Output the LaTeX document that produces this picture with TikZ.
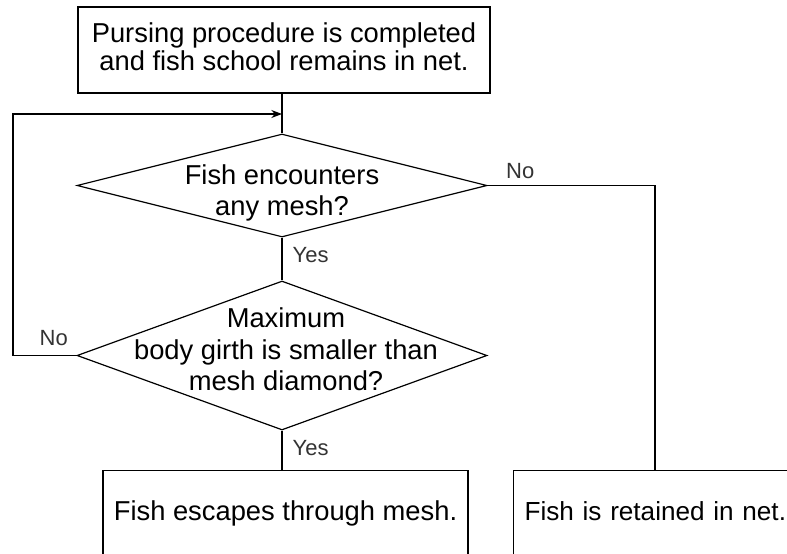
\documentclass[tikz,border=0pt]{standalone}
\usepackage{fontspec}
\setmainfont{Liberation Sans}
\usetikzlibrary{arrows.meta,shapes.geometric}

\begin{document}
\begin{tikzpicture}[->,>={Stealth[length=8pt,width=6pt]},x=0.75pt,y=-0.75pt,line width=0.9pt,font=\fontsize{20.5}{23.5}\selectfont]
              \tikzstyle{box}=[draw,rectangle,inner sep=0pt,align=center]
              \tikzstyle{ask}=[draw,diamond,inner sep=0pt,minimum width=307.5pt]
              \tikzstyle{asktext}=[align=center,inner sep=0pt]
              \tikzstyle{lbl}=[inner sep=0pt,font=\fontsize{16.5}{18}\selectfont,text=black!80]

              \useasboundingbox (0,0) rectangle (787,553);
              \clip (0,0) rectangle (787,553);

              \node[box]  (start)  [minimum width=309pt,minimum height=64.5pt,label={[asktext,yshift=2.5pt,font=\fontsize{20.5}{20.5}\selectfont]center:{Pursing procedure is completed\\and fish school remains in net.}}] at (284,50) {};
              \node[ask]  (meet)   [minimum height=77.25pt,label={[asktext,yshift=-5.5pt]center:{Fish encounters\\any mesh?}}] at (282,185.5) {};
              \node[ask]  (girth)  [minimum height=111.75pt,label={[asktext,yshift=4.5pt,xshift=3pt]center:{Maximum\\body girth is smaller than\\mesh diamond?}}] at (282,355.5) {};
              \node[box]  (escape) [anchor=north,inner ysep=0pt,inner xsep=7.5pt,minimum width=273.75pt,text height=37.5pt,text depth=60pt] at (285.5,470)
                          {Fish escapes through mesh.};
              \node[box]  (retain) [anchor=north west,inner ysep=0pt,inner xsep=8.25pt,text width=300pt,align=left,text height=37.5pt,text depth=60pt,font=\fontsize{19.6}{23.5}\selectfont] at (513,470)
                          {Fish is retained in net.};

              \coordinate (merge) at (282,114);
              \coordinate (back)  at (13,114);
              \coordinate (turn)  at (655,185.5);

              \draw[-] (start.south -| meet.north) -- (meet.north);
              \draw[-] (meet.south) -- node[lbl,anchor=west,xshift=7.5pt,pos=0.4] {Yes} (girth.north);
              \draw[-] (girth.south) -- node[lbl,anchor=west,xshift=7.5pt,pos=0.45] {Yes} (girth.south |- escape.north);
              \draw (girth.west) -- node[lbl,anchor=south east,pos=0,xshift=-6pt,yshift=6.75pt] {No} (girth.west -| back) -- (back) -- (merge);
              \draw[-] (meet.east) -- node[lbl,anchor=south west,pos=0,xshift=13.5pt,yshift=4.5pt] {No} (turn) -- (turn |- retain.north);
       \end{tikzpicture}
\end{document}
